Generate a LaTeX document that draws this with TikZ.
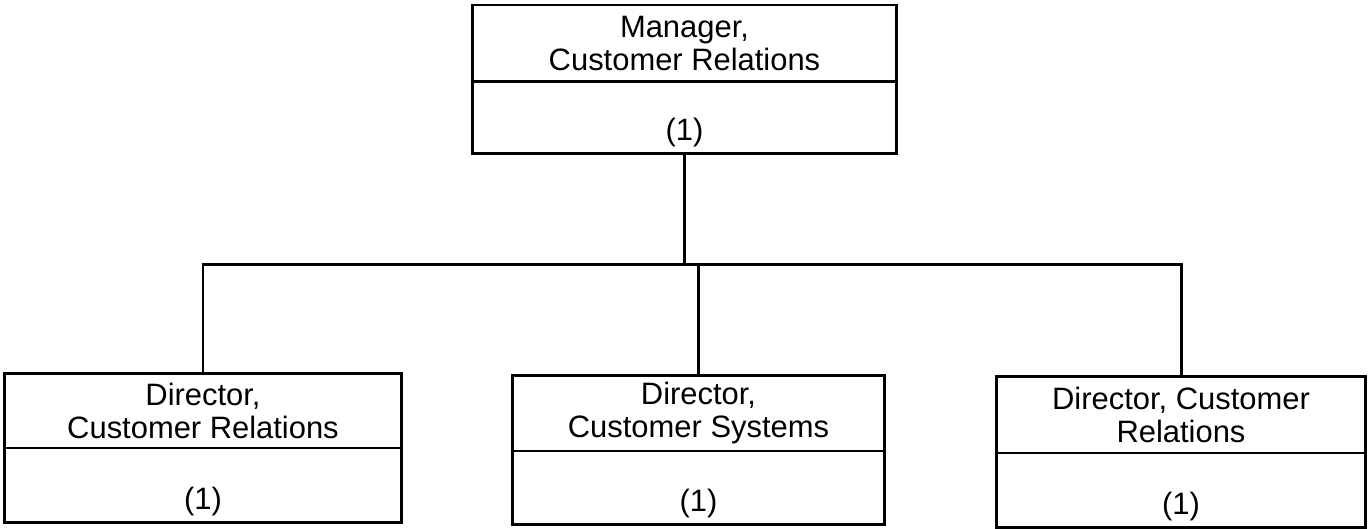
\documentclass[tikz,border=0pt]{standalone}
\usepackage{fontspec}
\setmainfont{Liberation Sans}
\usepackage{tikz}
\usetikzlibrary{positioning}
\tikzset{posttitle/.style={draw, outer sep=0pt, inner sep=0pt, align=center}}
\tikzset{postcount/.style={draw, outer sep=0pt, inner sep=0pt, text depth=0.26cm}}

\begin{document}
\begin{tikzpicture}[x=0.02cm, y=-0.02cm, line width=1.7pt, node distance=0pt, font=\fontsize{17.6}{18.8}\selectfont]
\useasboundingbox (0,0) rectangle (1368,528);
\node[posttitle, anchor=north, minimum width=8.5cm, minimum height=1.54cm] (mgr) at (684.5,5) {Manager,\\Customer Relations};
\node[postcount, below=of mgr, minimum width=8.5cm, text height=1.18cm] (mgrN) {(1)};
\node[posttitle, anchor=north, minimum width=7.96cm, minimum height=1.5cm] (dirRel) at (203,373) {Director,\\Customer Relations};
\node[postcount, below=of dirRel, minimum width=7.96cm, text height=1.24cm] (dirRelN) {(1)};
\node[posttitle, anchor=north, minimum width=7.46cm, minimum height=1.52cm] (dirSys) at (698.5,375) {Director,\\Customer Systems};
\node[postcount, below=of dirSys, minimum width=7.46cm, text height=1.22cm] (dirSysN) {(1)};
\node[posttitle, anchor=north, minimum width=7.4cm, minimum height=1.54cm] (dirCust) at (1181,376) {Director, Customer\\Relations};
\node[postcount, below=of dirCust, minimum width=7.4cm, text height=1.24cm] (dirCustN) {(1)};
\coordinate (bus) at (684.5,264);
\draw (mgrN.south) -- (bus);
\draw (dirRel.north) |- (bus) -| (dirCust.north);
\draw (bus) -| (dirSys.north);
\end{tikzpicture}
\end{document}
